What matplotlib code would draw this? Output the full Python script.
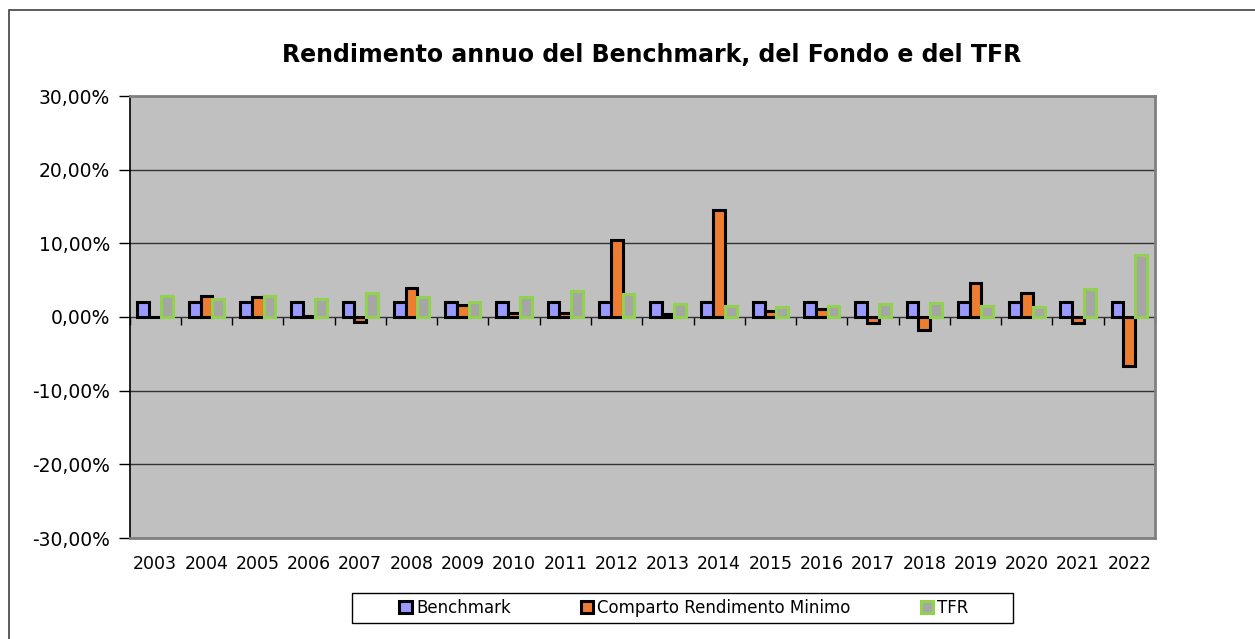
import numpy as np
import matplotlib.pyplot as plt
from matplotlib.ticker import FuncFormatter, MultipleLocator
from matplotlib.patches import Rectangle

years = [str(y) for y in range(2003, 2023)]
benchmark = [2.0] * 20
comparto = [0.0, 2.9, 2.7, 0.1, -0.7, 3.95, 1.6, 0.6, 0.5, 10.45,
            0.35, 14.5, 0.75, 1.1, -0.75, -1.75, 4.6, 3.25, -0.85, -6.7]
tfr = [2.85, 2.5, 2.8, 2.4, 3.25, 2.7, 2.0, 2.7, 3.5, 3.1,
       1.8, 1.45, 1.3, 1.5, 1.75, 1.9, 1.5, 1.35, 3.75, 8.35]

W, H = 1255, 639
fig = plt.figure(figsize=(W / 100, H / 100), dpi=100)
ax = fig.add_axes([129.5 / W, 1 - 538 / H, (1155 - 129.5) / W, (538 - 96) / H])
ax.set_facecolor('#C0C0C0')

x = np.arange(len(years))
bw = 0.23
ax.bar(x - bw, benchmark, bw, color='#9999FF', edgecolor='black', linewidth=2.2, label='Benchmark', zorder=3)
ax.bar(x, comparto, bw, color='#ED7D31', edgecolor='black', linewidth=2.2, label='Comparto Rendimento Minimo', zorder=3)
ax.bar(x + bw, tfr, bw, color='#A6A6A6', edgecolor='#92D050', linewidth=2.2, label='TFR', zorder=3)

ax.set_xlim(-0.5, len(years) - 0.5)
ax.set_ylim(-30, 30)
ax.yaxis.set_major_locator(MultipleLocator(10))
ax.yaxis.set_major_formatter(FuncFormatter(lambda v, p: f"{v:.2f}".replace('.', ',') + '%'))
ax.grid(axis='y', color='#333333', linewidth=1, zorder=1)
ax.tick_params(axis='y', direction='out', length=8, width=1, labelsize=13.5, pad=6)

ax.set_xticks(x)
ax.set_xticklabels(years)
ax.tick_params(axis='x', length=0, labelsize=12.5, pad=12)

for s in ['top', 'right', 'bottom']:
    ax.spines[s].set_color('#808080')
    ax.spines[s].set_linewidth(2)
ax.spines['left'].set_color('black')
ax.spines['left'].set_linewidth(1.2)

# category axis drawn at zero
sec = ax.secondary_xaxis(0.5)
sec.set_xticks(np.arange(-0.5, len(years), 1))
sec.xaxis.set_ticks_position('bottom')
sec.tick_params(axis='x', which='both', direction='out', length=6, width=1,
                top=False, bottom=True, labelbottom=False, labeltop=False)
sec.spines['bottom'].set_linewidth(1)
sec.spines['bottom'].set_color('black')
sec.spines['top'].set_visible(False)

fig.text(652 / W, 1 - 55 / H, 'Rendimento annuo del Benchmark, del Fondo e del TFR',
         ha='center', va='center', fontsize=17, fontweight='bold')

leg = fig.legend(loc='center', bbox_to_anchor=(684 / W, 1 - 608 / H),
                 ncol=3, fontsize=12, frameon=False, columnspacing=4.2,
                 handlelength=0.75, handleheight=0.75, handletextpad=0.25)

fig.patches.append(Rectangle((352 / W, 1 - 623 / H), (1013 - 352) / W, 30 / H,
                             transform=fig.transFigure, fill=False,
                             edgecolor='black', linewidth=1))
fig.patches.append(Rectangle((9 / W, -0.1), 1.2, 1.1 - 10 / H, transform=fig.transFigure,
                             fill=False, edgecolor='#404040', linewidth=1.2))

fig.savefig('out.png', dpi=100)
